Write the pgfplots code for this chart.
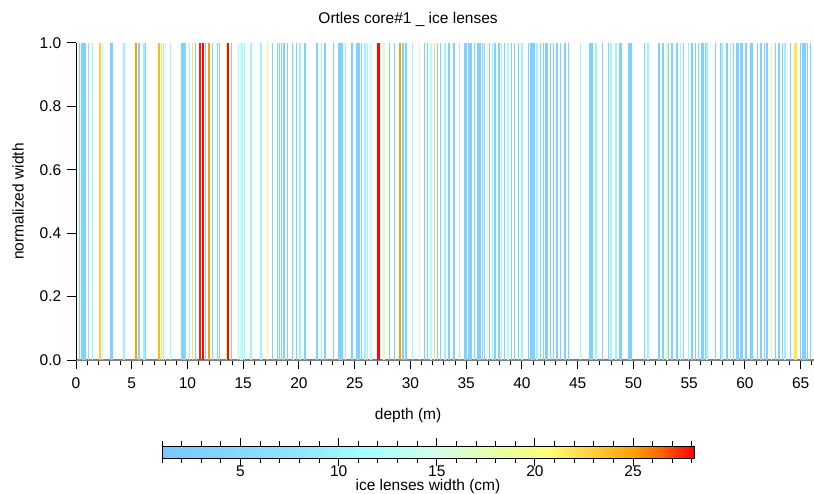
\documentclass[border=0pt]{standalone}
\usepackage{pgfplots}
\pgfplotsset{compat=1.18}
\usepackage{pgfplotstable}
\usepackage{fontspec}
\setmainfont{Liberation Sans}
\pgfplotstableread{
d w
0.30 3
0.50 3
0.62 3
0.74 3
0.85 3
1.10 6
1.50 10
2.15 23
2.36 12
3.15 3
3.25 3
4.30 10
5.38 25
5.65 3
6.10 10
6.25 3
7.45 24
7.65 22
7.83 10
8.05 17
8.50 10
9.50 3
9.60 3
9.70 3
9.80 6
10.20 10
10.43 22
10.73 3
11.63 3
11.92 25
12.22 3
12.67 3
12.88 3
13.48 21
13.93 3
14.60 12
14.75 14
14.90 12
15.10 10
15.70 10
16.60 10
17.20 21
17.65 3
18.10 3
18.25 3
18.45 3
18.65 3
19.00 3
19.45 3
19.50 17
19.80 3
20.10 10
20.55 3
21.55 3
21.65 3
22.05 10
22.35 3
23.10 3
23.60 3
23.75 3
23.85 3
24.15 10
24.75 3
25.20 3
25.40 3
25.60 3
25.94 10
26.15 10
26.45 14
27.64 17
28.10 3
28.55 3
29.35 3
29.60 3
30.20 10
30.80 15
31.25 3
31.55 3
31.85 12
32.15 22
32.45 3
32.70 3
33.10 10
33.45 3
33.90 3
34.40 10
34.90 3
35.05 3
35.20 3
35.35 3
35.50 3
35.77 3
36.05 3
36.25 3
36.45 3
36.65 3
36.90 17
37.10 3
37.35 10
37.57 3
37.95 3
38.16 10
38.46 3
38.76 12
39.06 3
39.36 3
39.70 3
40.00 10
40.60 3
40.75 3
40.90 3
41.10 3
41.35 10
41.65 3
41.95 3
42.10 3
42.25 3
42.55 3
42.85 3
43.15 3
43.45 3
43.85 3
44.20 3
45.25 10
46.10 3
46.25 3
46.35 3
46.65 10
47.25 3
47.75 3
48.00 10
48.45 10
48.75 3
48.90 3
49.60 3
49.70 3
49.80 3
51.00 3
51.30 10
52.30 3
52.60 3
52.70 3
53.00 17
53.15 3
53.45 3
53.90 3
54.20 10
54.50 3
54.95 10
55.25 3
55.55 3
55.85 3
56.15 3
56.30 3
56.45 3
56.60 10
57.35 3
57.80 3
57.95 10
58.40 3
58.70 10
59.00 3
59.30 3
59.45 3
59.60 3
59.75 3
60.10 3
60.55 3
60.70 3
61.15 3
61.45 3
61.75 3
62.00 3
62.40 18
62.75 3
63.05 3
63.35 3
63.60 10
64.10 3
65.00 3
65.15 3
65.30 3
65.45 3
65.60 3
65.90 3
}\thinlenses
\pgfplotstableread{
d w
11.12 27.5
11.41 28
13.63 28
27.14 28
29.05 25
64.55 22
}\thicklenses
\begin{document}
\begin{tikzpicture}
\pgfplotsset{
  colormap={icelens}{rgb255(1pt)=(120,200,255); rgb255(8pt)=(145,230,255); rgb255(11.5pt)=(165,255,255); rgb255(15pt)=(210,255,235); rgb255(18pt)=(232,255,165); rgb255(20.7pt)=(255,255,120); rgb255(23pt)=(255,205,55); rgb255(25pt)=(255,160,0); rgb255(26.5pt)=(255,95,0); rgb255(28.1pt)=(255,0,0)}
}
\begin{axis}[
  at={(49pt,85.8pt)}, anchor=south west,
  scale only axis, width=476pt, height=204.5pt,
  xmin=0, xmax=66.2, ymin=0, ymax=1,
  axis x line*=bottom, axis y line*=left,
  x axis line style={draw=gray, line width=1.3pt, -},
  y axis line style={-},
  tick align=outside,
  xtick={0,5,...,65}, minor xtick={0,1,...,66},
  ytick={0,0.2,...,1},
  major tick length=6pt, minor tick length=3.5pt,
  xtick style={black, line width=0.6pt},
  ytick style={black, line width=0.6pt},
  xticklabel style={yshift=-2pt},
  yticklabel style={/pgf/number format/.cd, fixed, fixed zerofill, precision=1},
  /pgf/number format/assume math mode=true,
  title={Ortles core\#1 \_ ice lenses},
  title style={at={(0.45,1)}, anchor=center, yshift=9pt},
  xlabel={depth (m)},
  xlabel style={at={(0.45,0)}, anchor=center, yshift=-35.5pt},
  ylabel={normalized width},
  ylabel style={at={(axis description cs:-0.0786,0.5)}, anchor=center},
  colormap name=icelens,
  point meta min=1, point meta max=28.1,
  colorbar horizontal,
  colorbar style={
    scale only axis,
    at={(parent axis.south west)}, anchor=north west,
    xshift=55.5pt, yshift=-47pt,
    width=343pt, height=7.7pt,
    xtick={5,10,15,20,25}, minor xtick={1,...,28},
    tick align=outside,
    major tick length=5pt, minor tick length=3pt,
    xtick style={black, line width=0.6pt},
    xticklabel style={inner sep=1pt, yshift=1.5pt},
    xlabel={ice lenses width (cm)},
    xlabel style={at={(0.5,0)}, anchor=center, inner sep=0.5pt, yshift=-18.5pt},
    /pgf/number format/assume math mode=true,
  },
  clip=true,
]
\addplot[quiver={u=0, v=1, colored}, line width=0.9pt, point meta=explicit]
  table[x=d, y expr=0, meta=w] {\thinlenses};
\addplot[quiver={u=0, v=1, colored}, line width=1.6pt, point meta=explicit]
  table[x=d, y expr=0, meta=w] {\thicklenses};
\end{axis}
\pgfresetboundingbox
\useasboundingbox (0,0) rectangle (525pt,318pt);
\end{tikzpicture}
\end{document}
